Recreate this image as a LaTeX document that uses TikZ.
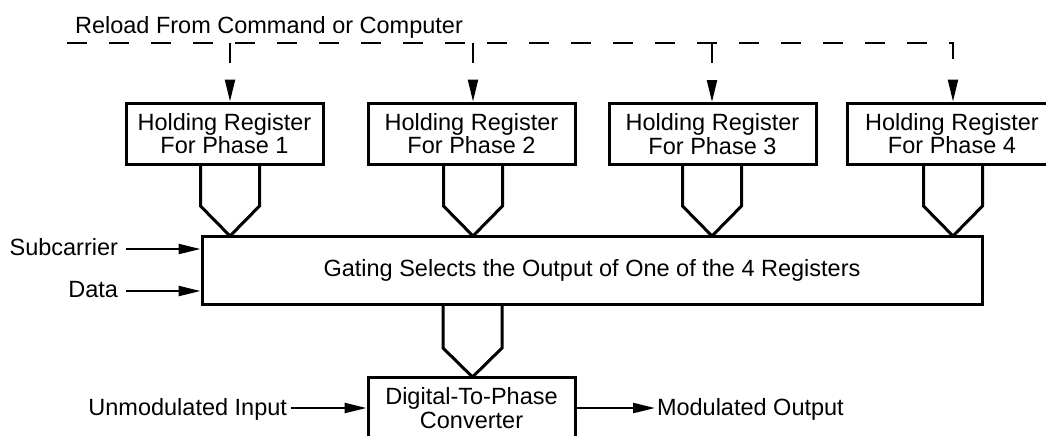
\documentclass[tikz,border=0pt]{standalone}
\usepackage{fontspec}
\setmainfont{Liberation Sans}
\usetikzlibrary{arrows.meta}
\begin{document}
\begin{tikzpicture}[x=0.5pt,y=-0.5pt]
\tikzset{
  txtfont/.style={font=\fontsize{11.75pt}{11.75pt}\selectfont},
  box/.style={draw, line width=1.5pt, align=center, inner sep=0pt, txtfont},
  lbl/.style={inner sep=0pt, outer sep=0pt, txtfont},
  tipA/.style={-{Triangle[length=11pt,width=5pt]}},
  arr/.style={line width=1.2pt, tipA},
  darr/.style={line width=1.1pt, dash pattern=on 10pt off 11pt, tipA},
  bus/.style={line width=1.5pt, line join=miter},
}
\useasboundingbox (0,0) rectangle (1046,435);
\clip (0,0) rectangle (1046,435);

% registers
\node[box, minimum width=98.5pt, minimum height=30.5pt] (r1) at (224.5,133.5) {Holding Register\\For Phase 1};
\node[box, minimum width=103.5pt, minimum height=30.5pt] (r2) at (471.5,133.5) {Holding Register\\For Phase 2};
\node[box, minimum width=103.5pt, minimum height=30.5pt] (r3) at (712.5,134) {Holding Register\\For Phase 3};
\node[box, minimum width=105pt, minimum height=30.5pt] (r4) at (952,133.5) {Holding Register\\For Phase 4};

% gating
\node[box, minimum width=390pt, minimum height=34pt] (gate) at (592,270) {Gating Selects the Output of One of the 4 Registers};

% converter
\node[box, minimum width=103.5pt, minimum height=31pt] (conv) at (471.5,408) {Digital-To-Phase\\Converter};

% reload label and dashed lines
\node[lbl, anchor=base] (reload) at (269,33) {Reload From Command or Computer};
\coordinate (rl) at (67,43);
\coordinate (t1) at (230,236);
\coordinate (t2) at (473,236);
\coordinate (t3) at (712,236);
\coordinate (t4) at (953,236);
\coordinate (tb) at (472.5,377);

\draw[darr] (rl) -- (t4 |- rl) -- (t4 |- r4.north);
\draw[darr] (t1 |- rl) -- (t1 |- r1.north);
\draw[darr] (t2 |- rl) -- (t2 |- r2.north);
\draw[darr] (t3 |- rl) -- (t3 |- r3.north);

% bus funnels
\foreach \r/\t in {r1/t1, r2/t2, r3/t3, r4/t4} {
  \draw[bus] ([xshift=-14.75pt]\t |- \r.south) -- ([xshift=-14.75pt, yshift=15pt]\t) -- (\t)
     -- ([xshift=14.75pt, yshift=15pt]\t) -- ([xshift=14.75pt]\t |- \r.south);
}
\draw[bus] ([xshift=-14.75pt]tb |- gate.south) -- ([xshift=-14.75pt, yshift=14.5pt]tb) -- (tb)
     -- ([xshift=14.75pt, yshift=14.5pt]tb) -- ([xshift=14.75pt]tb |- gate.south);

% side inputs
\node[lbl, anchor=base east] (sub) at (118,255) {Subcarrier};
\node[lbl, anchor=base east] (data) at (118,297) {Data};
\draw[arr] ([xshift=4pt,yshift=3pt]sub.base east) -- ([yshift=3pt]sub.base east -| gate.west);
\draw[arr] ([xshift=4pt,yshift=3pt]data.base east) -- ([yshift=3pt]data.base east -| gate.west);

% converter in/out
\node[lbl, anchor=base east] (um) at (287,415) {Unmodulated Input};
\node[lbl, anchor=base west] (mo) at (657,415) {Modulated Output};
\draw[arr] ([xshift=2pt,yshift=3.5pt]um.base east) -- ([yshift=3.5pt]um.base east -| conv.west);
\draw[arr] ([yshift=3.5pt]mo.base west -| conv.east) -- ([xshift=-1pt,yshift=3.5pt]mo.base west);
\end{tikzpicture}
\end{document}
